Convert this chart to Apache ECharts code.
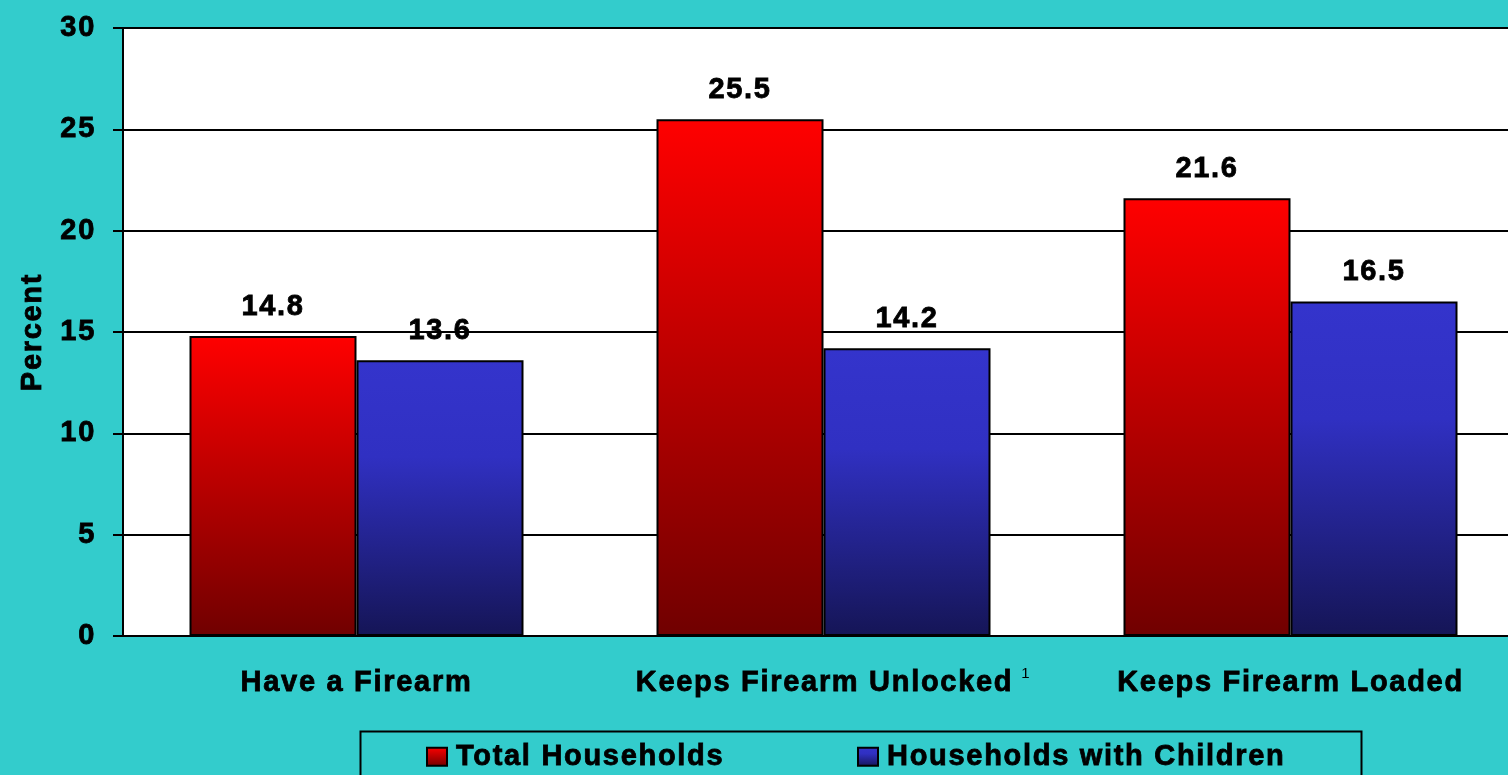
<!DOCTYPE html>
<html>
<head>
<meta charset="utf-8">
<script src="https://cdn.jsdelivr.net/npm/echarts@6/dist/echarts.min.js"></script>
<style>
html,body{margin:0;padding:0;background:#33cccc;}
#chart{width:1508px;height:775px;}
</style>
</head>
<body>
<div id="chart"></div>
<script>
// ---- data ----
const categories = ['Have a Firearm', 'Keeps Firearm Unlocked', 'Keeps Firearm Loaded'];
const footnoteMarks = ['', '1', ''];
const totalHouseholds = [14.8, 25.5, 21.6];
const householdsWithChildren = [13.6, 14.2, 16.5];
const seriesNames = ['Total Households', 'Households with Children'];
const yAxisTitle = 'Percent';

// wide character spacing like the original slide text
(function () {
  const P = CanvasRenderingContext2D.prototype;
  const ft = P.fillText, st = P.strokeText, mt = P.measureText;
  const LS = '1.7px';
  P.fillText = function () { this.letterSpacing = LS; return ft.apply(this, arguments); };
  P.strokeText = function () { this.letterSpacing = LS; return st.apply(this, arguments); };
  P.measureText = function () { this.letterSpacing = LS; return mt.apply(this, arguments); };
})();

const FONT = "'Liberation Sans', Arial, sans-serif";
const FS = 29;
const heavy = { textBorderColor: '#000', textBorderWidth: 0.8 };
const redGrad = new echarts.graphic.LinearGradient(0, 0, 0, 1, [
  { offset: 0, color: '#ff0000' }, { offset: 1, color: '#700000' }
]);
const blueGrad = new echarts.graphic.LinearGradient(0, 0, 0, 1, [
  { offset: 0, color: '#3434cc' }, { offset: 0.35, color: '#3030c2' }, { offset: 1, color: '#151556' }
]);

const chart = echarts.init(document.getElementById('chart'));
const labelCommon = Object.assign({
  show: true, position: 'top', distance: 14,
  color: '#000', fontFamily: FONT, fontWeight: 'bold', fontSize: FS
}, heavy);
const legendText = {
  color: '#000', fontFamily: FONT, fontWeight: 'bold', fontSize: FS,
  rich: { t: Object.assign({ color: '#000', fontFamily: FONT, fontWeight: 'bold', fontSize: FS, padding: [0, 0, 0, 4] }, heavy) }
};
chart.setOption({
  backgroundColor: '#33cccc',
  animation: false,
  textStyle: { fontFamily: FONT },
  grid: {
    left: 123, top: 28, width: 1401, height: 608,
    show: true, backgroundColor: '#ffffff', borderWidth: 0,
    containLabel: false, outerBoundsMode: 'none'
  },
  legend: [
    {
      data: [seriesNames[0]], left: 426, top: 741, itemWidth: 20, itemHeight: 18,
      icon: 'rect', padding: 0, textStyle: legendText, formatter: '{t|{name}}'
    },
    {
      data: [seriesNames[1]], left: 857, top: 741, itemWidth: 20, itemHeight: 18,
      icon: 'rect', padding: 0, textStyle: legendText, formatter: '{t|{name}}'
    }
  ],
  graphic: [{
    type: 'rect', left: 358, top: 729, silent: true,
    shape: { width: 1001, height: 80 },
    style: { fill: 'none', stroke: '#000', lineWidth: 2 }
  }],
  xAxis: {
    type: 'category', data: categories,
    axisLine: { show: true, lineStyle: { color: '#000', width: 2 } },
    axisTick: { show: false },
    axisLabel: {
      margin: 30, color: '#000',
      formatter: function (v, i) {
        const m = footnoteMarks[i];
        return m ? '{sp|}{a|' + v + '}{sup|' + m + '}' : '{a|' + v + '}';
      },
      rich: {
        a: Object.assign({ fontFamily: FONT, fontWeight: 'bold', fontSize: FS, color: '#000', lineHeight: 34 }, heavy),
        sp: { width: 22, lineHeight: 34 },
        sup: { fontFamily: FONT, fontSize: 15, color: '#000', width: 14, padding: [0, 0, 18, 6], lineHeight: 34 }
      }
    }
  },
  yAxis: {
    type: 'value', min: 0, max: 30, interval: 5,
    name: yAxisTitle, nameLocation: 'middle', nameRotate: 90, nameGap: 72,
    nameTextStyle: Object.assign({ color: '#000', fontFamily: FONT, fontWeight: 'bold', fontSize: FS }, heavy),
    axisLine: { show: true, lineStyle: { color: '#000', width: 2 } },
    axisTick: { show: true, length: 10, inside: false, lineStyle: { color: '#000', width: 2 } },
    axisLabel: Object.assign({ margin: 27, color: '#000', fontFamily: FONT, fontWeight: 'bold', fontSize: FS }, heavy),
    splitLine: { show: true, lineStyle: { color: '#000', width: 2 } }
  },
  series: [
    {
      name: seriesNames[0], type: 'bar', data: totalHouseholds,
      barWidth: 167, barGap: '0%',
      itemStyle: { color: redGrad, borderColor: '#000', borderWidth: 2 },
      label: labelCommon
    },
    {
      name: seriesNames[1], type: 'bar', data: householdsWithChildren,
      barWidth: 167, barGap: '0%',
      itemStyle: { color: blueGrad, borderColor: '#000', borderWidth: 2 },
      label: labelCommon
    }
  ]
});
</script>
</body>
</html>
